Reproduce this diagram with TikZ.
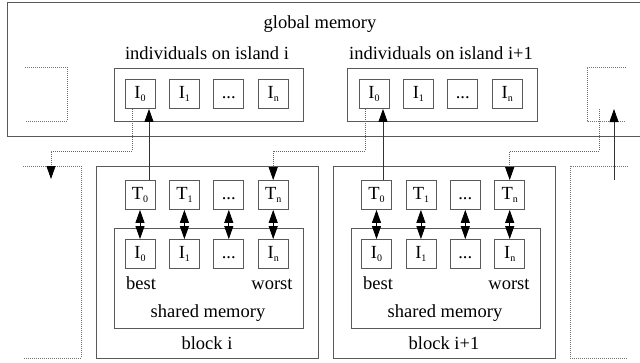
\documentclass[tikz,border=0pt]{standalone}
\usepackage{fontspec}
\setmainfont{Liberation Serif}
\usetikzlibrary{arrows.meta}
\newcommand{\sbs}[2]{#1\raisebox{-3.5pt}{\fontsize{10}{10}\selectfont #2}}
\newcommand{\celldots}{\vphantom{\sbs{I}{0}}...}
\begin{document}
\begin{tikzpicture}[x=1pt,y=-1pt,
  lbl/.style={font=\fontsize{18.5}{20}\selectfont, inner sep=0pt, anchor=base},
  cell/.style={draw=black!65, line width=0.8pt, minimum width=30pt, minimum height=29pt, inner sep=0pt, font=\fontsize{18.5}{20}\selectfont},
  frame/.style={draw=black!65, line width=0.8pt, inner sep=0pt},
  dotbox/.style={draw=black!55, line width=0.8pt, dash pattern=on 1pt off 1pt},
  link/.style={draw=black!80, line width=0.8pt, -{Triangle[width=9pt,length=13pt,color=black]}},
  dlink/.style={link, draw=black!60, dash pattern=on 1pt off 1pt},
  dbl/.style={draw=black, line width=0.8pt, {Triangle[width=9pt,length=13pt]}-{Triangle[width=9pt,length=13pt]}}
]
\useasboundingbox (0,0) rectangle (640,362);

% global memory (open on the right)
\draw[frame] (640,2) -- (7,2) -- (7,136) -- (640,136);
\node[lbl] (gm) at (320,28) {global memory};

% island frames
\node[frame, minimum width=189pt, minimum height=53pt] (islA) at (208.5,94.5) {};
\node[frame, minimum width=190pt, minimum height=53pt] (islB) at (442,94.5) {};
\node[lbl] (labA) at (207,59) {individuals on island i};
\node[lbl] (labB) at (441,59) {individuals on island i+1};

% block frames
\node[frame, minimum width=222pt, minimum height=192pt] (blkA) at (207,262) {};
\node[frame, minimum width=222pt, minimum height=192pt] (blkB) at (444,262) {};
\node[frame, minimum width=189pt, minimum height=100pt] (shA) at (208.5,278) {};
\node[frame, minimum width=189pt, minimum height=100pt] (shB) at (445.5,278) {};

% cells
\foreach \k/\ti/\tt in {0/{\sbs{I}{0}}/{\sbs{T}{0}},1/{\sbs{I}{1}}/{\sbs{T}{1}},2/{\celldots}/{\celldots},3/{\sbs{I}{n}}/{\sbs{T}{n}}}{
  \node[cell] (iA\k) at (140+44.4*\k,94) {\ti};
  \node[cell] (iB\k) at (374+44.4*\k,94) {\ti};
  \node[cell] (tA\k) at (140+44.4*\k,195) {\tt};
  \node[cell] (sA\k) at (140+44.4*\k,254) {\ti};
  \node[cell] (tB\k) at (376.5+44.4*\k,195) {\tt};
  \node[cell] (sB\k) at (376.5+44.4*\k,254) {\ti};
  \draw[dbl] (tA\k.south) -- (sA\k.north);
  \draw[dbl] (tB\k.south) -- (sB\k.north);
}

% labels inside blocks
\node[lbl] (bestA) at (141,289) {best};
\node[lbl] (worstA) at (272,289) {worst};
\node[lbl] (smA) at (208,317) {shared memory};
\node[lbl] (bkA) at (207,349) {block i};
\node[lbl] (bestB) at (378,289) {best};
\node[lbl] (worstB) at (509,289) {worst};
\node[lbl] (smB) at (445,317) {shared memory};
\node[lbl] (bkB) at (444,349) {block i+1};

% neighbouring (partial) islands and blocks
\draw[dotbox] (25,67) -- (67,67) -- (67,121) -- (25,121);
\draw[dotbox] (23,166) -- (81,166) -- (81,358) -- (23,358);
\draw[dotbox] (626,67) -- (587,67) -- (587,121) -- (626,121);
\draw[dotbox] (628,166) -- (570,166) -- (570,358) -- (628,358);

% migration connectors
\coordinate (lftend) at (51,179);
\coordinate (rstart) at (599,109);
\coordinate (rbot) at (614,180);
\coordinate (rtop) at (614,109);
\path ([xshift=9pt]iA0.south) coordinate (upA);
\path ([xshift=9pt]iB0.south) coordinate (upB);

\draw[link] (upA |- tA0.north) -- (upA);
\draw[link] (upB |- tB0.north) -- (upB);
\draw[link] (rbot) -- (rtop);
\draw[dlink] ([xshift=-8pt]iA0.south) -- ++(0,42) -| (lftend);
\draw[dlink] ([xshift=-9pt]iB0.south) -- ++(0,42) -| (tA3.north);
\draw[dlink] (rstart) -- ++(0,42) -| (tB3.north);
\end{tikzpicture}
\end{document}
